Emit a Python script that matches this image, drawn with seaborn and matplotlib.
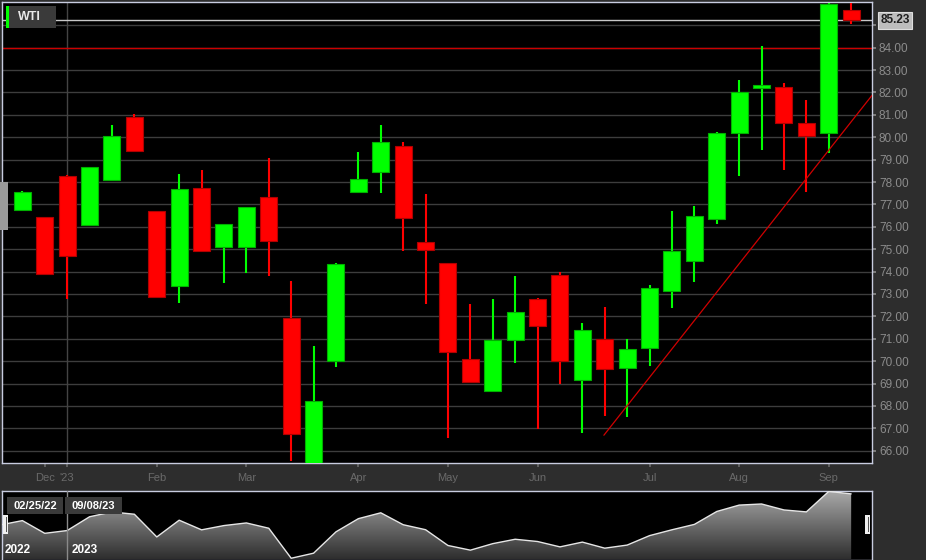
import matplotlib
matplotlib.use('Agg')
import matplotlib.pyplot as plt
import matplotlib.transforms as mtransforms
from matplotlib.patches import Rectangle
from matplotlib.colors import LinearSegmentedColormap
import seaborn as sns
import numpy as np
import pandas as pd

# weekly WTI candles, Dec '22 - Sep '23
opens = [76.77, 76.42, 78.27, 76.07, 78.09, 80.89, 76.69, 73.36, 77.72, 75.10,
         75.10, 77.33, 71.94, 65.30, 70.02, 77.57, 78.45, 79.61, 75.32, 74.38,
         70.11, 68.67, 70.93, 72.78, 73.85, 69.17, 70.98, 69.68, 70.60, 73.13,
         74.49, 76.36, 80.18, 82.20, 82.23, 80.62, 80.20, 85.70]
highs = [77.60, 76.45, 78.30, 78.67, 80.55, 81.04, 76.72, 78.36, 78.54, 76.14,
         76.89, 79.07, 73.58, 70.68, 74.38, 79.34, 80.55, 79.79, 77.47, 74.40,
         72.55, 72.78, 73.80, 72.80, 73.97, 71.70, 72.40, 70.99, 73.40, 76.72,
         76.93, 80.22, 82.56, 84.08, 82.42, 81.66, 86.00, 86.01]
lows = [76.75, 73.90, 72.78, 76.05, 78.07, 79.37, 72.85, 72.61, 74.89, 73.50,
        73.95, 73.82, 65.55, 65.20, 69.75, 77.55, 77.52, 74.93, 72.57, 66.58,
        69.06, 68.65, 69.93, 66.98, 68.99, 66.80, 67.56, 67.52, 69.80, 72.39,
        73.55, 76.14, 78.28, 79.44, 78.55, 77.57, 79.31, 85.07]
closes = [77.56, 73.91, 74.71, 78.67, 80.04, 79.39, 72.87, 77.68, 74.91, 76.14,
          76.89, 75.37, 66.76, 68.21, 74.34, 78.12, 79.80, 76.38, 74.95, 70.42,
          69.08, 70.95, 72.21, 71.56, 70.02, 71.39, 69.65, 70.54, 73.25, 74.93,
          76.47, 80.18, 82.01, 82.33, 80.62, 80.06, 85.94, 85.23]
prev_close = 76.3

month_ticks = [1, 2, 6, 10, 15, 19, 23, 28, 32, 36]
month_labels = ['Dec', "'23", 'Feb', 'Mar', 'Apr', 'May', 'Jun', 'Jul', 'Aug', 'Sep']
year_break = 2
last_price = 85.23
alert_level = 84.00
trend_x = [25.96, 37.93]
trend_y = [66.69, 81.87]

df = pd.DataFrame({'open': opens, 'high': highs, 'low': lows, 'close': closes})
df['x'] = np.arange(len(df))
df['up'] = df['close'] >= df['open']

sns.set_theme(style='dark', rc={'figure.facecolor': '#2d2d2d', 'axes.facecolor': 'black'})
plt.rcParams['font.family'] = ['Liberation Sans', 'DejaVu Sans']

W, H = 926, 560
def fx(px):
    return px / W
def fy(py):
    return 1 - py / H

fig = plt.figure(figsize=(9.26, 5.6), dpi=100)
fig.patch.set_facecolor('#2d2d2d')
ax = fig.add_axes([fx(2), fy(463), fx(870), 461 / H])
nav = fig.add_axes([fx(2), 0.5 / H, fx(870), 69 / H])

xlim = (-0.91, 37.93)
border = '#c8cce0'

# main chart
ax.set_facecolor('black')
ax.set_xlim(*xlim)
ax.set_ylim(65.45, 86.04)
ax.set_yticks(range(66, 86))
ax.set_yticklabels([f'{v:.2f}' for v in range(66, 86)])
ax.yaxis.tick_right()
ax.grid(axis='y', color='#3d3d3d', linewidth=1)
ax.grid(axis='x', visible=False)
ax.axvline(year_break, color='#444444', linewidth=1, zorder=1)

green, green_e = '#00ff00', '#00b000'
red, red_e = '#ff0000', '#b00000'
cols = np.where(df['up'], green, red)
edges = np.where(df['up'], green_e, red_e)
ax.vlines(df['x'], df['low'], df['high'], colors=cols, linewidth=1.5, zorder=3)
body_lo = df[['open', 'close']].min(axis=1)
body_h = (df['close'] - df['open']).abs()
ax.bar(df['x'], body_h, bottom=body_lo, width=0.76, color=cols,
       edgecolor=edges, linewidth=0.8, zorder=4)

ax.axhline(alert_level, color='#cc0000', linewidth=1, zorder=2)
ax.axhline(last_price, color='#c8c8c8', linewidth=1, zorder=2)
ax.plot(trend_x, trend_y, color='#d00000', linewidth=0.9, zorder=5)

ax.set_xticks(month_ticks)
ax.set_xticklabels(month_labels)
ax.tick_params(axis='x', direction='out', length=3, color='#666666',
               labelcolor='#6a6a6a', labelsize=8, pad=4, bottom=True)
ax.tick_params(axis='y', direction='out', length=3, color='#888888',
               labelcolor='#8c8c8c', labelsize=8.5, pad=2, right=True, left=False)
for s in ax.spines.values():
    s.set_color(border)
    s.set_linewidth(1)

trans = mtransforms.blended_transform_factory(ax.transAxes, ax.transData)
ax.text(1.0095, last_price, f'{last_price:.2f}', transform=trans, ha='left', va='center',
        fontsize=8.5, fontweight='bold', color='#1e1e1e', zorder=10, clip_on=False,
        bbox=dict(boxstyle='square,pad=0.22', fc='#bdbdbd', ec='#dedede', lw=0.8))

# navigator
nav_x = np.concatenate([[-1], df['x'].values])
nav_y = np.concatenate([[prev_close], df['close'].values])
nav_lo, nav_hi = 66.4, 86.2
nav.set_facecolor('black')
nav.set_xlim(*xlim)
nav.set_ylim(nav_lo, nav_hi)
poly = nav.fill_between(nav_x, nav_y, nav_lo, color='none')
gray = LinearSegmentedColormap.from_list('g', ['#2e2e2e', '#ababab'])
grad = np.linspace(1, 0, 256).reshape(-1, 1)
img = nav.imshow(grad, extent=[xlim[0], xlim[1], nav_lo, nav_hi], aspect='auto',
                 cmap=gray, vmin=0, vmax=1, zorder=2)
img.set_clip_path(poly.get_paths()[0], transform=nav.transData)
sns.lineplot(x=nav_x, y=nav_y, ax=nav, color='#e6e6e6', linewidth=1, zorder=3)
nav.axvline(year_break, color='#8a8a8a', linewidth=1, zorder=4)
nav.set_xticks([])
nav.set_yticks([])
nav.set_xlabel('')
nav.set_ylabel('')
for s in nav.spines.values():
    s.set_color(border)
    s.set_linewidth(1)

# overlays in pixel space
def rect(x0, y0, x1, y1, color, z=20):
    fig.patches.append(Rectangle((fx(x0), fy(y1)), fx(x1 - x0), (y1 - y0) / H,
                                 transform=fig.transFigure, facecolor=color,
                                 edgecolor='none', zorder=z))

rect(6, 6, 56, 28, '#3a3a3a')
rect(6, 6, 9, 28, '#00ff00', 21)
fig.text(fx(18), fy(17.5), 'WTI', ha='left', va='center', color='#e8e8e8',
         fontsize=9, fontweight='bold', zorder=22)
rect(0, 182, 8, 230, '#9a9a9a')

rect(7, 497, 63, 514, '#3a3a3a')
rect(65, 497, 122, 514, '#3a3a3a')
fig.text(fx(35), fy(506), '02/25/22', ha='center', va='center', color='white',
         fontsize=8, fontweight='bold', zorder=22)
fig.text(fx(93.5), fy(506), '09/08/23', ha='center', va='center', color='white',
         fontsize=8, fontweight='bold', zorder=22)
fig.text(fx(5), fy(550), '2022', ha='left', va='center', color='white',
         fontsize=8.5, fontweight='bold', zorder=22)
fig.text(fx(72), fy(550), '2023', ha='left', va='center', color='white',
         fontsize=8.5, fontweight='bold', zorder=22)

for hx in (3, 865):
    rect(hx, 515, hx + 5, 534, '#f0f0f0')
    rect(hx + 1.5, 517, hx + 2, 532, '#555555', 21)
    rect(hx + 3, 517, hx + 3.5, 532, '#555555', 21)

fig.savefig('out.png', dpi=100, facecolor=fig.get_facecolor())
